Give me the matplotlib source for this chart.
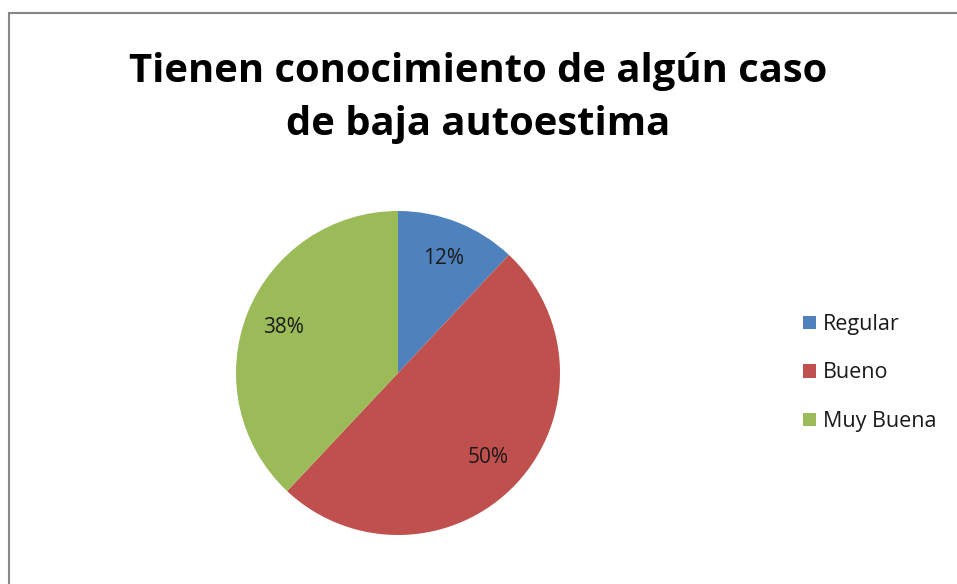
import matplotlib.pyplot as plt
from matplotlib.patches import Rectangle

title = 'Tienen conocimiento de algún caso\nde baja autoestima'
labels = ['Regular', 'Bueno', 'Muy Buena']
values = [12, 50, 38]
colors = ['#4F81BD', '#C0504D', '#9BBB59']

plt.rcParams['font.family'] = ['Open Sans', 'DejaVu Sans']

fig = plt.figure(figsize=(9.57, 5.84), dpi=100)

# grey frame of the chart area
fig.patches.append(Rectangle((9 / 957, -0.1), 1.1, 1 - 13 / 584 + 0.1,
                             transform=fig.transFigure, fill=False,
                             edgecolor='#868686', linewidth=1.5))

fig.text(0.5, 1 - 98 / 584, title, ha='center', va='center', fontsize=28.8,
         fontweight='bold', linespacing=1.48)

ax = fig.add_axes([398 / 957 - 162 / 957, 1 - 373 / 584 - 162 / 584,
                   324 / 957, 324 / 584])
wedges, texts, autotexts = ax.pie(values, colors=colors, startangle=90,
                                  counterclock=False, autopct='%1.0f%%',
                                  pctdistance=0.76,
                                  textprops={'fontsize': 15, 'color': '#1a1a1a'})
ax.set_xlim(-1, 1)
ax.set_ylim(-1, 1)

leg = fig.legend(wedges, labels, loc='center left',
                 bbox_to_anchor=(784 / 957, 1 - 373 / 584), frameon=False,
                 fontsize=15.5, handlelength=0.6, handleheight=0.6,
                 handletextpad=0.3, labelspacing=1.28)
for t in leg.get_texts():
    t.set_color('#1a1a1a')

fig.savefig('out.png', dpi=100)
